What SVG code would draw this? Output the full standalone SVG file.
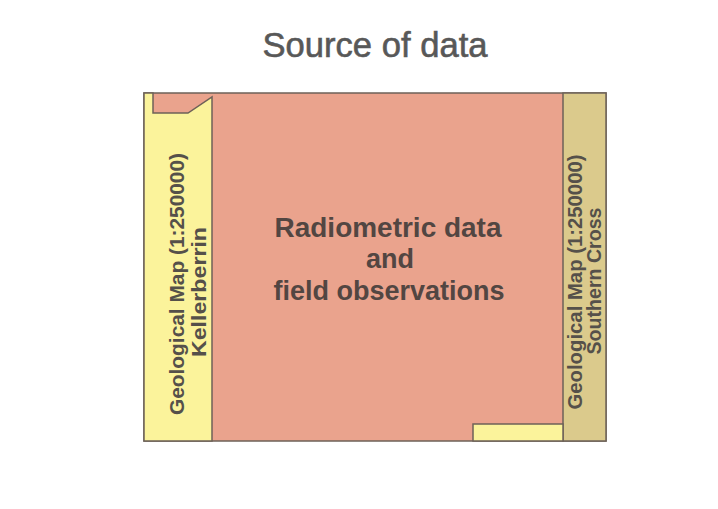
<svg xmlns="http://www.w3.org/2000/svg" width="718" height="509" viewBox="0 0 718 509">
<style>
.t{font-family:"Liberation Sans",Arial,sans-serif;fill:#524642;font-weight:bold}
.r{font-size:21px;text-anchor:middle;fill:#55504a}
.b{stroke:#6e6258;stroke-width:1.5}
</style>
<rect width="718" height="509" fill="#ffffff"/>
<text x="375" y="57" font-family="Liberation Sans,Arial,sans-serif" font-size="35" text-anchor="middle" fill="#585858" stroke="#585858" stroke-width="0.6" textLength="225" lengthAdjust="spacingAndGlyphs">Source of data</text>
<g id="radiometric">
<rect x="144" y="93" width="462" height="348" fill="#eaa38d" class="b"/>
<text class="t" font-size="27" text-anchor="middle"><tspan x="388" y="237" textLength="227" lengthAdjust="spacingAndGlyphs">Radiometric data</tspan><tspan x="390" y="268">and</tspan><tspan x="389" y="300" textLength="231" lengthAdjust="spacingAndGlyphs">field observations</tspan></text>
</g>
<g id="kellerberrin">
<path d="M144 93 H153 V113 H188 L212 97 V441 H144 Z" fill="#fbf39b" class="b"/>
<text class="t r" transform="translate(184 284) rotate(-90)" textLength="262" lengthAdjust="spacingAndGlyphs">Geological Map (1:250000)</text>
<text class="t r" transform="translate(206 292) rotate(-90)" textLength="130" lengthAdjust="spacingAndGlyphs">Kellerberrin</text>
</g>
<g id="southern-cross">
<rect x="563" y="93" width="43" height="348" fill="#dbca8c" class="b"/>
<text class="t r" transform="translate(582 282) rotate(-90)" textLength="255" lengthAdjust="spacingAndGlyphs">Geological Map (1:250000)</text>
<text class="t r" transform="translate(601 281) rotate(-90)" textLength="147" lengthAdjust="spacingAndGlyphs">Southern Cross</text>
</g>
<g id="bottom-patch">
<rect x="473" y="424" width="90" height="17" fill="#fbf39b" class="b"/>
</g>
</svg>
